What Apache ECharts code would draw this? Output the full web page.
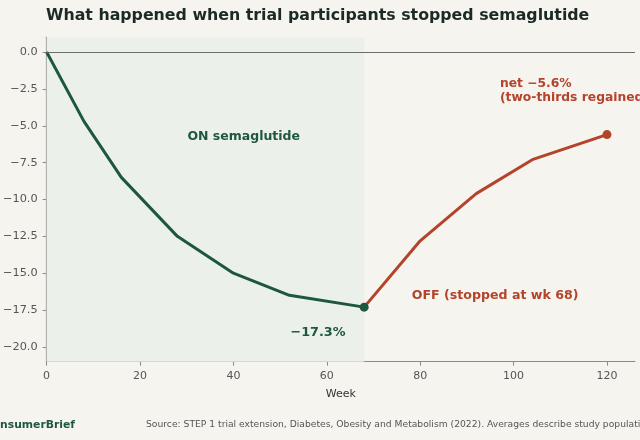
<!DOCTYPE html>
<html>
<head>
<meta charset="utf-8">
<script src="https://cdn.jsdelivr.net/npm/echarts@6/dist/echarts.min.js"></script>
<style>
html,body{margin:0;padding:0;background:#f5f4ef;}
#c{width:640px;height:440px;}
</style>
</head>
<body>
<div id="c"></div>
<script>
const weeksOn = [0, 8, 16, 28, 40, 52, 68];
const valuesOn = [0, -4.7, -8.5, -12.5, -15.0, -16.5, -17.3];
const weeksOff = [68, 80, 92, 104, 120];
const valuesOff = [-17.3, -12.8, -9.6, -7.3, -5.6];
const xTicks = [0, 20, 40, 60, 80, 100, 120];
const yTicks = [0, -2.5, -5, -7.5, -10, -12.5, -15, -17.5, -20];

const GREEN = '#1d5740';
const RED = '#b3432b';
const FONT = 'DejaVu Sans';

const fmtY = v => (v < 0 ? '\u2212' : '') + Math.abs(v).toFixed(1);

const chart = echarts.init(document.getElementById('c'), null, {renderer: 'canvas'});
chart.setOption({
  backgroundColor: '#f5f4ef',
  animation: false,
  textStyle: {fontFamily: FONT},
  grid: {left: 45.7, right: 5, top: 37.3, bottom: 78.3, containLabel: false},
  xAxis: {
    type: 'value', min: 0, max: 126,
    name: 'Week', nameLocation: 'middle', nameGap: 27,
    nameTextStyle: {fontFamily: FONT, fontSize: 11, color: '#333'},
    axisLine: {show: true, onZero: false, lineStyle: {color: '#8a8a86', width: 1.2}},
    axisTick: {show: true, length: 4, lineStyle: {color: '#8a8a86'}, customValues: xTicks},
    axisLabel: {fontFamily: FONT, fontSize: 11, color: '#555', margin: 9, customValues: xTicks},
    splitLine: {show: false}
  },
  yAxis: {
    type: 'value', min: -21, max: 1,
    axisLine: {show: true, onZero: false, lineStyle: {color: '#8a8a86', width: 1.2}},
    axisTick: {show: true, length: 4, lineStyle: {color: '#8a8a86'}, customValues: yTicks},
    axisLabel: {fontFamily: FONT, fontSize: 11.3, color: '#555', margin: 9, formatter: fmtY, customValues: yTicks},
    splitLine: {show: false}
  },
  series: [
    {
      type: 'line', name: 'off',
      data: weeksOff.map((w, i) => [w, valuesOff[i]]),
      lineStyle: {color: RED, width: 3},
      itemStyle: {color: RED},
      symbol: 'circle', symbolSize: (v, p) => p.dataIndex === weeksOff.length - 1 ? 9 : 0,
      showSymbol: true, z: 3
    },
    {
      type: 'line', name: 'on',
      data: weeksOn.map((w, i) => [w, valuesOn[i]]),
      lineStyle: {color: GREEN, width: 3},
      itemStyle: {color: GREEN},
      symbol: 'circle', symbolSize: (v, p) => p.dataIndex === weeksOn.length - 1 ? 9 : 0,
      showSymbol: true, z: 4,
      markArea: {
        silent: true,
        itemStyle: {color: '#ecf0eb'},
        data: [[{xAxis: 0, yAxis: 1}, {xAxis: weeksOff[0], yAxis: -21}]]
      },
      markLine: {
        silent: true, symbol: 'none', label: {show: false},
        lineStyle: {color: '#6a6f6b', width: 1.2, type: 'solid'},
        data: [{yAxis: 0}]
      }
    }
  ],
  graphic: {
    elements: [
      {type: 'text', z: 100, left: 46, top: 8, style: {text: 'What happened when trial participants stopped semaglutide', font: 'bold 15.8px "DejaVu Sans"', fill: '#1b2a24'}},
      {type: 'text', z: 100, x: 243.7, y: 136.7, style: {text: 'ON semaglutide', font: 'bold 12.5px "DejaVu Sans"', fill: GREEN, align: 'center', verticalAlign: 'middle'}},
      {type: 'text', z: 100, x: 318, y: 332.5, style: {text: '\u221217.3%', font: 'bold 12.8px "DejaVu Sans"', fill: GREEN, align: 'center', verticalAlign: 'middle'}},
      {type: 'text', z: 100, x: 411.7, y: 296, style: {text: 'OFF (stopped at wk 68)', font: 'bold 12.6px "DejaVu Sans"', fill: RED, align: 'left', verticalAlign: 'middle'}},
      {type: 'text', z: 100, x: 500, y: 84.3, style: {text: 'net \u22125.6%', font: 'bold 12.3px "DejaVu Sans"', fill: RED, align: 'left', verticalAlign: 'middle'}},
      {type: 'text', z: 100, x: 500, y: 97.8, style: {text: '(two-thirds regained)', font: 'bold 12.3px "DejaVu Sans"', fill: RED, align: 'left', verticalAlign: 'middle'}},
      {type: 'text', z: 100, x: 75, y: 425, style: {text: 'ConsumerBrief', font: 'bold 10.8px "DejaVu Sans"', fill: GREEN, align: 'right', verticalAlign: 'middle'}},
      {type: 'text', z: 100, x: 146, y: 425, style: {text: 'Source: STEP 1 trial extension, Diabetes, Obesity and Metabolism (2022). Averages describe study populations, not individuals.', font: '9.2px "DejaVu Sans"', fill: '#555', align: 'left', verticalAlign: 'middle'}}
    ]
  }
});
</script>
</body>
</html>
